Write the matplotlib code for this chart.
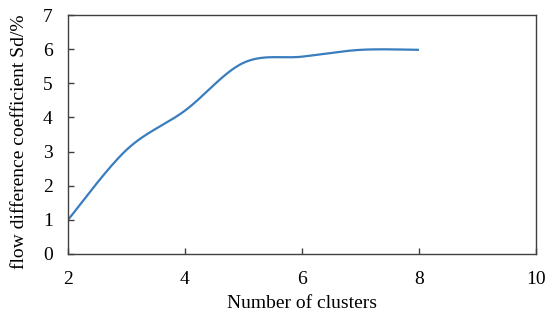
import numpy as np
import matplotlib
matplotlib.use("Agg")
import matplotlib.pyplot as plt

clusters = [2, 3, 4, 5, 6, 7, 8]
sd_values = [1.0, 3.05, 4.2, 5.6, 5.78, 5.98, 5.98]


def smooth(x, y, n=30):
    # Catmull-Rom style smoothing like a spreadsheet "smoothed line"
    x = np.asarray(x, float); y = np.asarray(y, float)
    px = np.concatenate([[x[0]], x, [x[-1]]])
    py = np.concatenate([[y[0]], y, [y[-1]]])
    xs, ys = [], []
    for i in range(1, len(px) - 2):
        p0, p1, p2, p3 = (np.array([px[j], py[j]]) for j in (i - 1, i, i + 1, i + 2))
        c1 = p1 + (p2 - p0) / 6
        c2 = p2 - (p3 - p1) / 6
        t = np.linspace(0, 1, n)[:, None]
        pts = (1 - t)**3 * p1 + 3 * (1 - t)**2 * t * c1 + 3 * (1 - t) * t**2 * c2 + t**3 * p2
        xs.extend(pts[:, 0]); ys.extend(pts[:, 1])
    return np.array(xs), np.array(ys)


plt.rcParams["font.family"] = ["Liberation Serif", "DejaVu Serif"]
fig = plt.figure(figsize=(5.5, 3.17), dpi=100)
ax = fig.add_axes([68/550, 1 - 254/317, (536-68)/550, (254-15)/317])

sx, sy = smooth(clusters, sd_values)
ax.plot(sx, sy, color="#3A7DBE", lw=1.6, solid_capstyle="butt")

ax.set_xlim(2, 10)
ax.set_ylim(0, 7)
ax.set_xticks([2, 4, 6, 8, 10])
ax.set_yticks(range(8))
ax.tick_params(axis="x", direction="in", length=4, width=1, color="#404040",
               labelsize=14, pad=12)
ax.tick_params(axis="y", direction="in", length=4, width=1, color="#404040",
               labelsize=14, pad=11)
for s in ax.spines.values():
    s.set_color("#404040"); s.set_linewidth(1.0)
ax.set_xlabel("Number of clusters", fontsize=14, labelpad=5)
ax.set_ylabel("flow difference coefficient Sd/%", fontsize=14)
ax.yaxis.set_label_coords(-0.085, 0.47)

fig.savefig("out.png", dpi=100)
